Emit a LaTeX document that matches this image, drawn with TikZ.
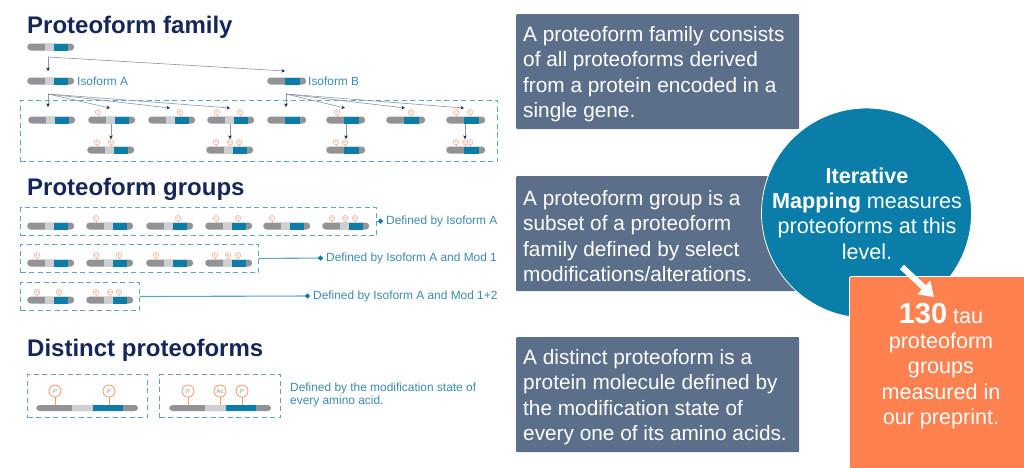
\documentclass[tikz,border=0pt]{standalone}
\usepackage{fontspec}
\setmainfont{Liberation Sans}
\usetikzlibrary{arrows.meta}
\definecolor{navy}{HTML}{15275A}
\definecolor{slate}{HTML}{5C6F8A}
\definecolor{teal}{HTML}{0A7DA8}
\definecolor{skyline}{HTML}{5BA6C8}
\definecolor{labelblue}{HTML}{3A8AB0}
\definecolor{bargray}{HTML}{929397}
\definecolor{barlight}{HTML}{CDCFD2}
\definecolor{coral}{HTML}{FF814F}
\definecolor{pinline}{HTML}{FFB79C}
\definecolor{linkgray}{HTML}{8C93A8}
\tikzset{
    heading/.style={anchor=west, inner sep=0pt, text=navy, font=\fontsize{24}{26}\selectfont\bfseries},
    barbase/.style={anchor=west, inner sep=0pt, minimum height=7pt, rectangle, rounded corners=3.5pt, fill=bargray},
    pinhead/.style={circle, draw=pinline, fill=white, line width=0.7pt, inner sep=0pt, minimum size=5.4pt, text=bargray, font=\fontsize{3}{3}\selectfont},
    bigpin/.style={circle, draw=coral!85, fill=white, line width=0.8pt, inner sep=0pt, minimum size=12pt, text=bargray, font=\fontsize{6}{6}\selectfont},
    dashbox/.style={draw=skyline, line width=1pt, dash pattern=on 5pt off 3.5pt, anchor=north west, inner sep=0pt},
    link/.style={draw=linkgray, line width=0.6pt, -{Stealth[color=navy, length=3.5pt, width=3.5pt]}},
    callout/.style={draw=skyline, line width=1.1pt, -{Circle[color=teal, length=5pt]}},
    sidelabel/.style={anchor=west, inner sep=3pt, text=labelblue, font=\fontsize{11.9}{13}\selectfont},
    infobox/.style={anchor=north west, fill=slate, rounded corners=1pt, inner sep=0pt, minimum width=283pt, minimum height=115pt},
    infotext/.style={anchor=west, text=white, inner sep=0pt, align=left, font=\fontsize{20.8}{25.4}\selectfont}
}
% isoform A bar: name, left end, height
\newcommand{\protbar}[3]{
    \node (#1) [barbase, minimum width=47pt] at (#2,#3) {};
    \fill [barlight] (#2+18,#3-3.5) rectangle (#2+27,#3+3.5);
    \fill [teal] (#2+27,#3-3.5) rectangle (#2+40.5,#3+3.5);
}
% isoform B bar
\newcommand{\protbarb}[3]{
    \node (#1) [barbase, minimum width=39pt] at (#2,#3) {};
    \fill [teal] (#2+18,#3-3.5) rectangle (#2+32.5,#3+3.5);
}
% small modification pin: x, bar height, label
\newcommand{\modpin}[3]{
    \node (pin-#1-#2) [pinhead] at (#1,#2-7.8) {#3};
    \draw [pinline, line width=0.7pt] (pin-#1-#2.south) -- (#1,#2-3);
}
\newcommand{\modpinbig}[3]{
    \node (pin-#1-#2) [bigpin] at (#1,#2-17) {#3};
    \draw [coral!85, line width=0.8pt] (pin-#1-#2.south) -- (#1,#2-3);
}
\newcommand{\longbar}[3]{
    \node (#1) [barbase, minimum width=102pt, minimum height=6pt] at (#2,#3) {};
    \fill [barlight] (#2+36,#3-3) rectangle (#2+57,#3+3);
    \fill [teal] (#2+57,#3-3) rectangle (#2+87,#3+3);
}
\begin{document}
\begin{tikzpicture}[x=1pt,y=-1pt]
    \useasboundingbox (0,0) rectangle (1024,467);

    % proteoform family
    \node (familytitle) [heading] at (27,27.5) {Proteoform family};
    \protbar{root}{27}{47}
    \protbar{isoA}{27}{81}
    \protbarb{isoB}{267}{81}
    \node (isoAlabel) [sidelabel] at (74,81) {Isoform A};
    \node (isoBlabel) [sidelabel] at (305,81) {Isoform B};
    \node (familybox) [dashbox, minimum width=477pt, minimum height=61pt] at (20,100) {};

    \protbar{a1}{28}{120}
    \protbar{a2}{88}{120}
    \protbar{a3}{148}{120}
    \protbar{a4}{207}{120}
    \protbarb{b1}{267}{120}
    \protbarb{b2}{326}{120}
    \protbarb{b3}{386}{120}
    \protbarb{b4}{446}{120}
    \protbar{a5}{87}{150}
    \protbar{a6}{206}{150}
    \protbarb{b5}{326}{150}
    \protbarb{b6}{446}{150}

    \modpin{98}{120}{P}
    \modpin{180}{120}{P}
    \modpin{217}{120}{P}
    \modpin{240}{120}{P}
    \modpin{337}{120}{P}
    \modpin{411}{120}{P}
    \modpin{456}{120}{P}
    \modpin{470}{120}{P}
    \modpin{97}{150}{P}
    \modpin{111}{150}{Ac}
    \modpin{216}{150}{P}
    \modpin{230}{150}{Ac}
    \modpin{239}{150}{P}
    \modpin{336}{150}{P}
    \modpin{345}{150}{Ac}
    \modpin{456}{150}{P}
    \modpin{465}{150}{Ac}
    \modpin{470}{150}{P}

    \coordinate (rootfork) at (48,57);
    \coordinate (forkA) at (48,94);
    \coordinate (forkB) at (286,94);
    \draw [link] (rootfork) -- (48,71);
    \draw [link] (rootfork) -- (285,71);
    \draw [link] (forkA) -- (48,107);
    \draw [link] (forkA) -- (110,108);
    \draw [link] (forkA) -- (170,108);
    \draw [link] (forkA) -- (230,108);
    \draw [link] (forkB) -- (286,107);
    \draw [link] (forkB) -- (345,108);
    \draw [link] (forkB) -- (405,108);
    \draw [link] (forkB) -- (464,108);
    \draw [link] (a2.south -| 111,125) -- (111,139);
    \draw [link] (a4.south -| 230,125) -- (230,139);
    \draw [link] (b2.south -| 346,125) -- (346,139);
    \draw [link] (b4.south -| 465,125) -- (465,139);

    % proteoform groups
    \node (groupstitle) [heading] at (27,189.5) {Proteoform groups};
    \node (groupA) [dashbox, minimum width=356pt, minimum height=28pt] at (20,207) {};
    \node (groupB) [dashbox, minimum width=238pt, minimum height=28pt] at (20,244) {};
    \node (groupC) [dashbox, minimum width=119pt, minimum height=28pt] at (20,282) {};
    \node (groupAlabel) [sidelabel] at (383,221) {Defined by Isoform A};
    \node (groupBlabel) [sidelabel] at (323,258) {Defined by Isoform A and Mod 1};
    \node (groupClabel) [sidelabel] at (310,296) {Defined by Isoform A and Mod 1+2};
    \draw [callout] (groupA.east) -- (groupAlabel.west);
    \draw [callout] (groupB.east) -- (groupBlabel.west);
    \draw [callout] (groupC.east) -- (groupClabel.west);

    \protbar{g1}{27}{226}
    \protbar{g2}{86}{226}
    \protbar{g3}{146}{226}
    \protbar{g4}{205}{226}
    \protbar{g5}{263}{226}
    \protbar{g6}{322}{226}
    \protbar{h1}{27}{263}
    \protbar{h2}{86}{263}
    \protbar{h3}{146}{263}
    \protbar{h4}{205}{263}
    \protbar{k1}{27}{300}
    \protbar{k2}{86}{300}

    \modpin{96}{226}{P}
    \modpin{178}{226}{P}
    \modpin{216}{226}{P}
    \modpin{238}{226}{P}
    \modpin{272}{226}{P}
    \modpin{332}{226}{P}
    \modpin{345}{226}{Ac}
    \modpin{355}{226}{P}
    \modpin{37}{263}{P}
    \modpin{96}{263}{P}
    \modpin{119}{263}{P}
    \modpin{156}{263}{P}
    \modpin{215}{263}{P}
    \modpin{228}{263}{Ac}
    \modpin{238}{263}{P}
    \modpin{37}{300}{P}
    \modpin{59}{300}{P}
    \modpin{96}{300}{P}
    \modpin{110}{300}{Ac}
    \modpin{119}{300}{P}

    % distinct proteoforms
    \node (distincttitle) [heading] at (27,350.5) {Distinct proteoforms};
    \node (distinctA) [dashbox, minimum width=120pt, minimum height=43pt] at (27,374) {};
    \node (distinctB) [dashbox, minimum width=121pt, minimum height=43pt] at (159,374) {};
    \longbar{d1}{36}{408}
    \longbar{d2}{169}{408}
    \modpinbig{55}{408}{P}
    \modpinbig{109}{408}{P}
    \modpinbig{188}{408}{P}
    \modpinbig{220}{408}{Ac}
    \modpinbig{242}{408}{P}
    \node (distinctlabel) [anchor=west, inner sep=0pt, text=labelblue, align=left, font=\fontsize{11.9}{13}\selectfont] at (290,394.5) {Defined by the modification state of \\ every amino acid.};

    % explanations
    \node (familyinfo) [infobox] at (516,14) {};
    \node (groupinfo) [infobox] at (516,176) {};
    \node (distinctinfo) [infobox] at (516,337) {};
    \node (familyinfotext) [infotext] at (523,74) {A proteoform family consists \\ of all proteoforms derived \\ from a protein encoded in a \\ single gene.};
    \node (groupinfotext) [infotext] at (523,236) {A proteoform group is a \\ subset of a proteoform \\ family defined by select \\ modifications/alterations.};
    \node (distinctinfotext) [infotext] at (523,397) {A distinct proteoform is a \\ protein molecule defined by \\ the modification state of \\ every one of its amino acids.};

    % callouts on the right
    \node (mapping) [circle, draw=white, fill=teal, line width=0.8pt, minimum size=210pt, inner sep=0pt] at (866.5,213) {};
    \node (mappingtext) [inner sep=0pt, text=white, align=center, font=\fontsize{21.6}{25.4}\selectfont] at (867,213.5) {\textbf{Iterative} \\ \textbf{Mapping} measures \\ proteoforms at this \\ level.};
    \node (preprint) [anchor=north west, fill=coral, draw=white, line width=0.8pt, rounded corners=2pt, inner sep=0pt, minimum width=190pt, minimum height=200pt] at (849,276) {};
    \node (preprinttext) [inner sep=0pt, text=white, align=center, font=\fontsize{21.6}{25.4}\selectfont] at (941,366) {{\fontsize{29}{25.4}\selectfont\textbf{130}} tau \\ proteoform \\ groups \\ measured in \\ our preprint.};
    \coordinate (arrowstart) at (902,267);
    \coordinate (arrowend) at (934,297);
    \draw [white, line width=6pt, -{Triangle[length=14pt, width=18pt]}] (arrowstart) -- (arrowend);
\end{tikzpicture}
\end{document}
